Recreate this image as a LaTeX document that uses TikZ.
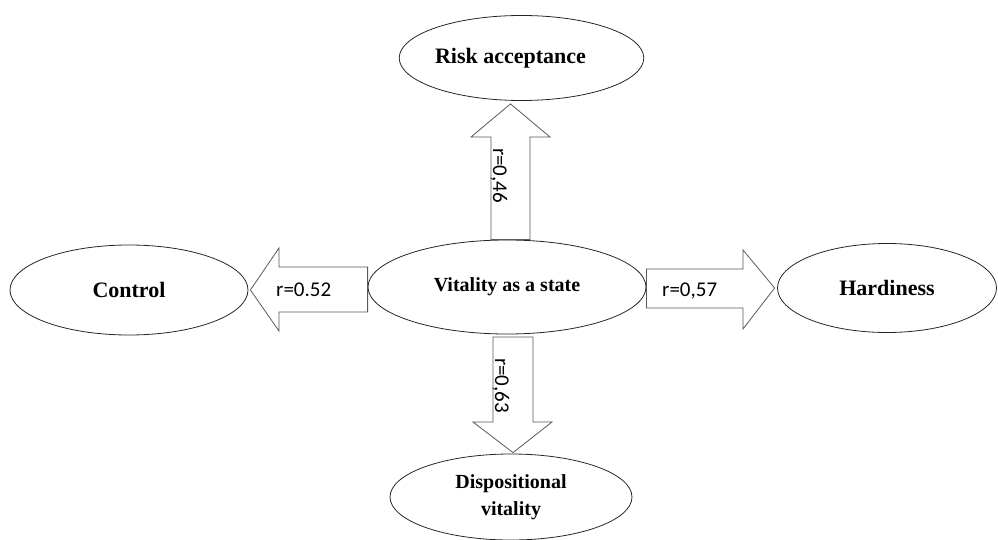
\documentclass[tikz,border=0pt]{standalone}
\usepackage{fontspec}
\setmainfont{Liberation Serif}
\newfontfamily\coeffont{Carlito}
\usetikzlibrary{shapes.geometric}

\tikzset{
  factor/.style={draw=black!85, ellipse, line width=0.8pt, inner sep=0pt, align=center,
    font=\bfseries\fontsize{22}{26}\selectfont},
  blockarrow/.style={draw=black!65, line width=0.8pt, line join=miter},
  coef/.style={inner sep=0pt, font=\coeffont\fontsize{21}{25}\selectfont}
}

\begin{document}
\begin{tikzpicture}[x=1pt, y=-1pt]
    \useasboundingbox (0,0) rectangle (998,540);

    % Factors
    \node[factor, minimum width=243pt, minimum height=85pt] (risk) at (521.5,58) {Risk acceptance\hspace*{22pt}};
    \node[factor, minimum width=278pt, minimum height=94pt, font=\bfseries\fontsize{20}{24}\selectfont] (vit) at (507,287) {Vitality as a state};
    \node[factor, minimum width=238pt, minimum height=90pt] (ctrl) at (129,290) {Control};
    \node[factor, minimum width=219pt, minimum height=89pt] (hard) at (887,288) {Hardiness};
    \node[factor, minimum width=242pt, minimum height=86pt, font=\bfseries\fontsize{20}{27}\selectfont] (disp) at (511,497) {Dispositional\\vitality};

    % Block arrows
    \draw[blockarrow] (491,0 |- vit.north) -- (491,137) -- (471,137) -- ([yshift=-3pt]510.5,0 |- risk.south)
        -- (550,137) -- (530,137) -- (530,0 |- vit.north) -- cycle;
    \draw[blockarrow] (vit.west |- 0,267) -- (279,267) -- (279,248) -- ([xshift=2pt]ctrl.east)
        -- (279,331) -- (279,312) -- (vit.west |- 0,312) -- cycle;
    \draw[blockarrow] (vit.east |- 0,269) -- (743,269) -- (743,250) -- ([xshift=-2.5pt]hard.west)
        -- (743,329) -- (743,308) -- (vit.east |- 0,308) -- cycle;
    \draw[blockarrow] (493,337) -- (493,422) -- (473,422) -- ([yshift=1pt]513,0 |- disp.north)
        -- (552,422) -- (533,422) -- (533,337) -- cycle;

    % Coefficients
    \node[coef, anchor=base west, rotate=-90] (r46) at (493,148) {r=0,46};
    \node[coef, anchor=base west] (r52) at (276,296) {r=0.52};
    \node[coef, anchor=base west] (r57) at (662,296) {r=0,57};
    \node[coef, anchor=base west, rotate=-90] (r63) at (495,358) {r=0,63};
\end{tikzpicture}
\end{document}
